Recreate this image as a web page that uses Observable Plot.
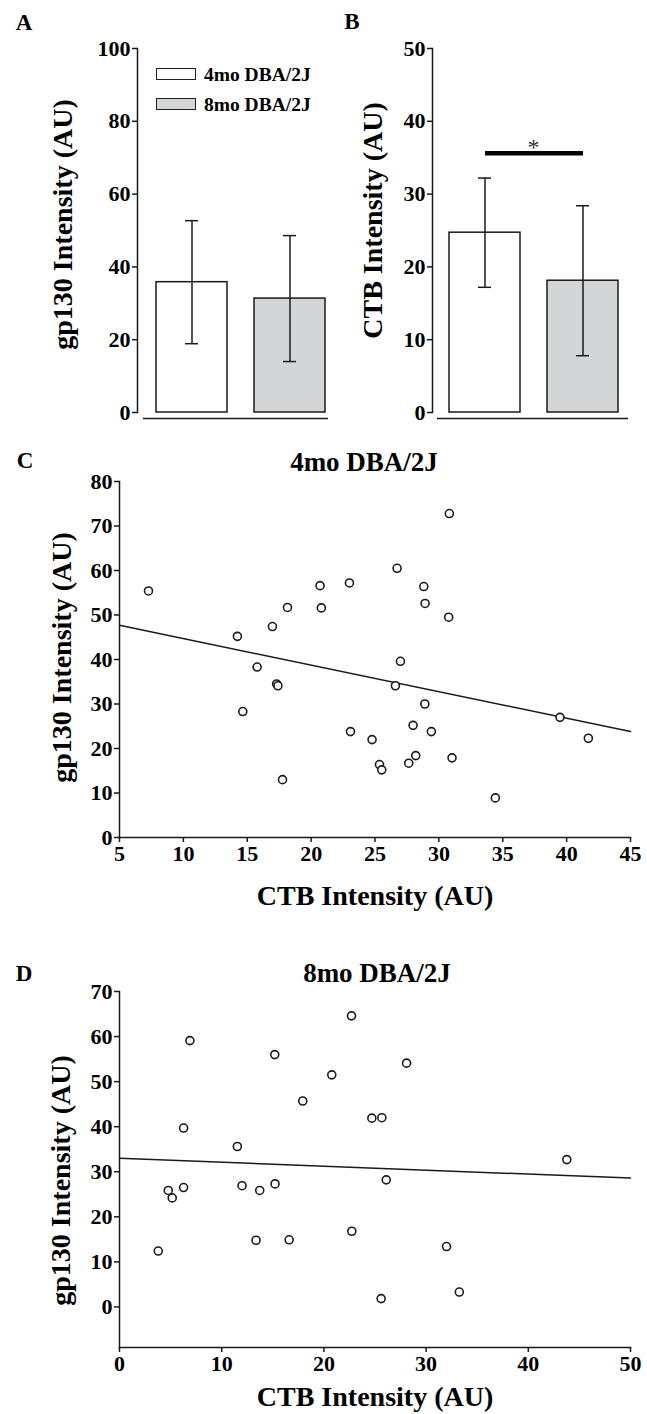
<!DOCTYPE html>
<html><head><meta charset="utf-8">
<script src="https://cdn.jsdelivr.net/npm/d3@7"></script>
<script src="https://cdn.jsdelivr.net/npm/@observablehq/plot@0.6"></script>
<style>
body{margin:0;background:#fff;}
#root{position:relative;width:647px;height:1414px;overflow:hidden;font-family:"Liberation Serif","Times New Roman",serif;font-weight:bold;color:#000;}
#root svg{position:absolute;}
.t{position:absolute;line-height:1;white-space:nowrap;transform:translate(-50%,-50%);}
.letter{font-size:23px;}
.ptitle{font-size:27px;}
.lgbox{position:absolute;width:38px;height:10px;border:1.5px solid #222;}
.lgtxt{position:absolute;font-size:19.5px;line-height:1;white-space:nowrap;transform:translateY(-50%);}
</style></head><body><div id="root"></div>
<script>
// ---- data ----
const groups = ["4mo DBA/2J", "8mo DBA/2J"];
const groupFill = ["#ffffff", "#d4d5d7"];
const gp130Mean = [35.8, 31.3];
const gp130SD = [16.9, 17.3];
const ctbMean = [24.7, 18.1];
const ctbSD = [7.5, 10.3];
const sigY = 35.6;
const sigLabel = "*";

const ticksA = [0, 20, 40, 60, 80, 100];
const ticksB = [0, 10, 20, 30, 40, 50];
const ticksCx = [5, 10, 15, 20, 25, 30, 35, 40, 45];
const ticksCy = [0, 10, 20, 30, 40, 50, 60, 70, 80];
const ticksDx = [0, 10, 20, 30, 40, 50];
const ticksDy = [0, 10, 20, 30, 40, 50, 60, 70];

const ctb4 = [7.27, 14.23, 14.65, 15.77, 16.97, 17.3, 17.4, 17.76, 18.15, 20.7, 20.8, 23.0, 23.08, 24.77, 25.35, 25.53, 26.6, 26.73, 26.99, 27.64, 27.98, 28.19, 28.82, 28.9, 28.92, 29.41, 30.77, 30.82, 31.03, 34.42, 39.48, 41.7];
const gp4  = [55.4, 45.2, 28.3, 38.3, 47.4, 34.5, 34.1, 13.0, 51.7, 56.6, 51.6, 57.2, 23.8, 22.0, 16.4, 15.2, 34.1, 60.5, 39.6, 16.7, 25.2, 18.4, 56.4, 30.0, 52.6, 23.8, 49.5, 72.8, 17.9, 8.9, 27.0, 22.3];
const fitCx = [5, 45];
const fitCy = [47.7, 23.8];

const ctb8 = [3.79, 4.77, 5.16, 6.27, 6.27, 6.89, 11.53, 11.99, 13.36, 13.72, 15.19, 15.22, 16.6, 17.93, 20.77, 22.7, 22.73, 24.69, 25.6, 25.67, 26.1, 28.09, 32.0, 33.25, 43.77];
const gp8  = [12.4, 25.85, 24.2, 26.5, 39.7, 59.1, 35.6, 26.9, 14.8, 25.85, 56.0, 27.3, 14.9, 45.7, 51.5, 64.6, 16.8, 41.9, 1.85, 42.0, 28.2, 54.1, 13.4, 3.3, 32.7];
const fitDx = [0, 50];
const fitDy = [33.0, 28.6];

const yTitle = "gp130 Intensity (AU)";
const xTitle = "CTB Intensity (AU)";
const ctbYTitle = "CTB Intensity (AU)";

// ---- rendering ----
const root = document.getElementById("root");
const FONT = '"Liberation Serif","Times New Roman",serif';
const style = {fontFamily: FONT, fontWeight: "bold", fontSize: "22px", background: "transparent", color: "#000", overflow: "visible"};
const INK = "#1a1a1a";

function put(svg, left, top) { svg.style.left = left + "px"; svg.style.top = top + "px"; root.appendChild(svg); }
function text(cls, str, x, y) { const d = document.createElement("div"); d.className = "t " + cls; d.textContent = str; d.style.left = x + "px"; d.style.top = y + "px"; root.appendChild(d); }

function barPanel({means, sds, yDomain, ticks, width, mL, mR, xRange, baseInsetL, baseInsetR, title, titleDx, titleDy, sig}) {
  const data = groups.map((g, i) => ({group: g, fill: groupFill[i], mean: means[i], lo: means[i] - sds[i], hi: means[i] + sds[i]}));
  const marks = [
    Plot.frame({anchor: "left", stroke: INK, strokeWidth: 1.5}),
    Plot.axisY({ticks, label: null, tickSize: 5, tickPadding: 2, fontSize: 22, fontWeight: "bold", strokeWidth: 1.5, stroke: INK}),
    Plot.barY(data, {x: "group", y: "mean", fill: "fill", stroke: INK, strokeWidth: 1.5}),
    Plot.ruleX(data, {x: "group", y1: "lo", y2: "hi", stroke: INK, strokeWidth: 1.5}),
    Plot.tickY(data, {x: "group", y: "hi", insetLeft: 29, insetRight: 29, stroke: INK, strokeWidth: 1.5}),
    Plot.tickY(data, {x: "group", y: "lo", insetLeft: 29, insetRight: 29, stroke: INK, strokeWidth: 1.5}),
    Plot.ruleY([0], {dy: 6, insetLeft: baseInsetL, insetRight: baseInsetR, stroke: INK, strokeWidth: 1.5}),
    Plot.text([title], {frameAnchor: "left", textAnchor: "middle", lineAnchor: "middle", rotate: -90, dx: titleDx, dy: titleDy, fontSize: 28, fontWeight: "bold", fill: "#000"})
  ];
  if (sig) {
    marks.push(Plot.link([sig], {x1: () => groups[0], x2: () => groups[1], y1: d => d.y, y2: d => d.y, stroke: "#000", strokeWidth: 4.5}));
    marks.push(Plot.text([sig], {y: d => d.y, text: d => d.label, dy: -6, fontSize: 24, fontWeight: "normal", fill: "#333"}));
  }
  return Plot.plot({
    width, height: 430, marginLeft: mL, marginRight: mR, marginTop: 48, marginBottom: 18,
    style,
    x: {type: "band", domain: groups, range: xRange, paddingInner: 0.28, paddingOuter: 0.14, axis: null},
    y: {domain: yDomain, axis: null},
    marks
  });
}

put(barPanel({means: gp130Mean, sds: gp130SD, yDomain: [0, 100], ticks: ticksA, width: 332, mL: 137, mR: 2,
  xRange: [142, 339], baseInsetL: 6, baseInsetR: 2, title: yTitle, titleDx: -74, titleDy: -6}), 0, 0);
put(barPanel({means: ctbMean, sds: ctbSD, yDomain: [0, 50], ticks: ticksB, width: 315, mL: 100, mR: 13,
  xRange: [103.2, 300.2], baseInsetL: 5, baseInsetR: 6, title: ctbYTitle, titleDx: -59, titleDy: -10,
  sig: {y: sigY, label: sigLabel}}), 332, 0);

function scatterPanel({xs, ys, fx, fy, xDomain, yDomain, xTicks, yTicks, height, mB, xTitleDy, yTitleDx, yTitleDy}) {
  const pts = xs.map((x, i) => ({x, y: ys[i]}));
  const fit = fx.map((x, i) => ({x, y: fy[i]}));
  return Plot.plot({
    width: 647, height, marginLeft: 119, marginRight: 17, marginTop: 51, marginBottom: mB,
    style,
    x: {domain: xDomain, axis: null},
    y: {domain: yDomain, axis: null},
    marks: [
      Plot.frame({anchor: "left", stroke: INK, strokeWidth: 1.5}),
      Plot.frame({anchor: "bottom", stroke: INK, strokeWidth: 1.5}),
      Plot.axisY({ticks: yTicks, label: null, tickSize: 5, tickPadding: 2, fontSize: 22, fontWeight: "bold", strokeWidth: 1.5, stroke: INK}),
      Plot.axisX({ticks: xTicks, label: null, tickSize: 5, tickPadding: 3, fontSize: 22, fontWeight: "bold", strokeWidth: 1.5, stroke: INK}),
      Plot.line(fit, {x: "x", y: "y", stroke: INK, strokeWidth: 1.5}),
      Plot.dot(pts, {x: "x", y: "y", r: 4, stroke: INK, strokeWidth: 1.6, fill: "white"}),
      Plot.text([xTitle], {frameAnchor: "bottom", lineAnchor: "middle", dy: xTitleDy, fontSize: 28, fontWeight: "bold", fill: "#000"}),
      Plot.text([yTitle], {frameAnchor: "left", textAnchor: "middle", lineAnchor: "middle", rotate: -90, dx: yTitleDx, dy: yTitleDy, fontSize: 28, fontWeight: "bold", fill: "#000"})
    ]
  });
}

put(scatterPanel({xs: ctb4, ys: gp4, fx: fitCx, fy: fitCy, xDomain: [5, 45], yDomain: [0, 80], xTicks: ticksCx, yTicks: ticksCy,
  height: 480, mB: 73, xTitleDy: 59, yTitleDx: -57, yTitleDy: -2}), 0, 430);
put(scatterPanel({xs: ctb8, ys: gp8, fx: fitDx, fy: fitDy, xDomain: [0, 50], yDomain: [-9, 70], xTicks: ticksDx, yTicks: ticksDy,
  height: 474, mB: 67, xTitleDy: 50, yTitleDx: -58, yTitleDy: 11}), 0, 940);

// panel letters and titles
text("letter", "A", 24, 22);
text("letter", "B", 352, 21);
text("letter", "C", 25, 460);
text("letter", "D", 24, 973);
text("ptitle", groups[0], 364, 462);
text("ptitle", groups[1], 377, 973);

// legend (panel A)
groups.forEach((g, i) => {
  const b = document.createElement("div");
  b.className = "lgbox"; b.style.left = "156px"; b.style.top = (68 + i * 30) + "px"; b.style.background = groupFill[i];
  root.appendChild(b);
  const t = document.createElement("div");
  t.className = "lgtxt"; t.textContent = g; t.style.left = "204px"; t.style.top = (75 + i * 30) + "px";
  root.appendChild(t);
});
</script></body></html>
